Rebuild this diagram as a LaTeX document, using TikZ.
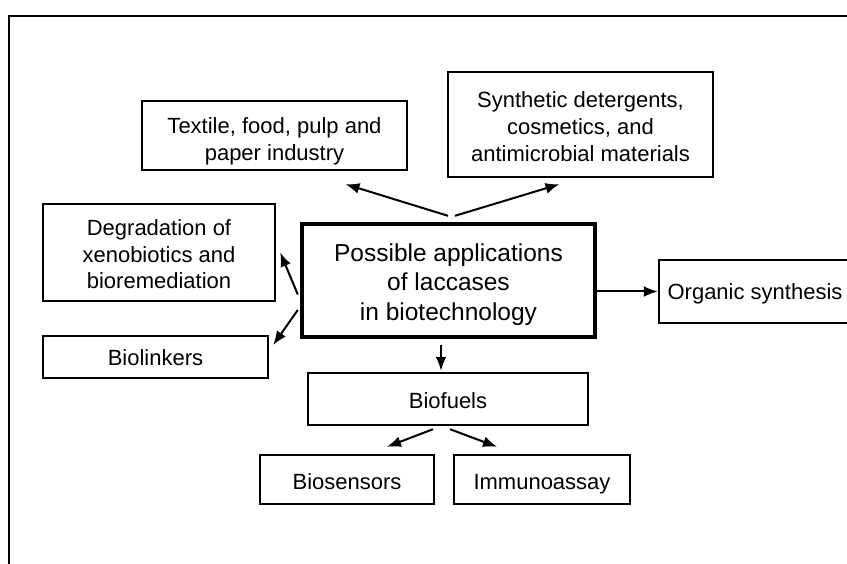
\documentclass[tikz,border=0pt]{standalone}
\usepackage{fontspec}
\setmainfont{Liberation Sans}
\usetikzlibrary{arrows.meta}
\newcommand{\boxup}[1]{\rule{0pt}{#1}}
\newcommand{\boxdown}{\rule[-6pt]{0pt}{0pt}}
\tikzset{
  box/.style={draw, line width=2.4pt, align=center, inner sep=0pt,
    font=\fontsize{22}{26.5}\selectfont,
    execute at end node={\boxdown}},
  mainbox/.style={box, line width=4.4pt, font=\fontsize{24.5}{29.5}\selectfont},
  lift/.style={execute at begin node={\boxup{#1}}},
  arr/.style={line width=2pt, -{Latex[length=14pt,width=11pt]}}
}
\begin{document}
\begin{tikzpicture}[x=1pt,y=-1pt]
    \clip (0,0) rectangle (847,564);
    \draw[line width=2.4pt] (849,16) -- (9,16) -- (9,566);
    % centre and branches
    \node[mainbox, minimum width=293pt, minimum height=113pt] (main) at (448.5,280.5)
      {\boxup{26.7pt}Possible applications\\of laccases\\in biotechnology\boxdown};
    \node[box, minimum width=265pt, minimum height=69pt] (textile) at (274.5,135.5)
      {\boxup{29.3pt}Textile, food, pulp and\\paper industry\boxdown};
    \node[box, minimum width=265pt, minimum height=105pt, font=\fontsize{22}{27}\selectfont] (synth) at (580.5,124.5)
      {\boxup{26pt}Synthetic detergents,\\cosmetics, and\\antimicrobial materials\boxdown};
    \node[box, minimum width=232pt, minimum height=97pt] (degr) at (159,252.5)
      {\boxup{26pt}Degradation of\\xenobiotics and\\bioremediation\boxdown};
    \node[box, lift=24pt, minimum width=225pt, minimum height=42pt] (biolink) at (155.5,357)
      {Biolinkers};
    \node[box, lift=21.3pt, minimum width=192pt, minimum height=63pt] (organic) at (755,291.5)
      {Organic synthesis};
    \node[box, lift=24pt, minimum width=280pt, minimum height=52pt] (biofuels) at (448,399)
      {Biofuels};
    \node[box, lift=26.5pt, minimum width=174pt, minimum height=49pt] (biosens) at (347,479.5)
      {Biosensors};
    \node[box, lift=26.5pt, minimum width=176pt, minimum height=49pt] (immuno) at (542,479.5)
      {Immunoassay};
    % arrows
    \draw[arr] ([xshift=-0.5pt,yshift=6pt]main.north) -- ([xshift=71pt,yshift=-13pt]textile.south);
    \draw[arr] ([xshift=6.5pt,yshift=6pt]main.north) -- ([xshift=-21pt,yshift=-6pt]synth.south);
    \draw[arr] ([xshift=-2pt,yshift=-14pt]main.west) -- ([xshift=4pt]degr.east);
    \draw[arr] ([xshift=-2pt,yshift=-29.5pt]main.west) -- ([xshift=4pt,yshift=12pt]biolink.east);
    \draw[arr] (main.east |- organic.west) -- (organic.west);
    \draw[arr] ([xshift=-7.5pt,yshift=-6pt]main.south) -- ([xshift=-7pt,yshift=1pt]biofuels.north);
    \draw[arr] ([xshift=-15pt,yshift=-3pt]biofuels.south) -- ([xshift=40pt,yshift=7pt]biosens.north);
    \draw[arr] ([xshift=2pt,yshift=-3pt]biofuels.south) -- ([xshift=-45pt,yshift=7pt]immuno.north);
\end{tikzpicture}
\end{document}
